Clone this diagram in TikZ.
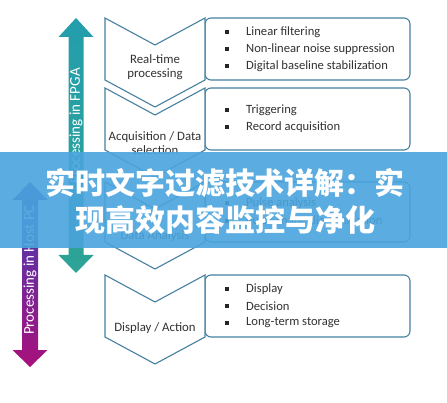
\documentclass[tikz,border=0pt]{standalone}
\usepackage{fontspec}
\setmainfont{Carlito}
\newfontfamily\cjk{Noto Sans CJK SC}
\definecolor{edge}{RGB}{70,128,160}
\definecolor{txt}{RGB}{50,50,50}
\definecolor{banner}{RGB}{74,164,221}
\begin{document}
\begin{tikzpicture}[x=1pt,y=-1pt,
  chev/.style={draw=edge,line width=1.1pt,fill=white,line join=miter},
  rbox/.style={draw=edge,line width=1.1pt,fill=white,rounded corners=6pt},
  ctext/.style={font=\fontsize{12.8}{14.5}\selectfont,text=txt,align=center},
  item/.style={font=\fontsize{12.6}{14}\selectfont,text=txt,anchor=west,inner sep=0pt},
  bul/.style={fill=black!85,minimum size=3.6pt,inner sep=0pt},
  arrtext/.style={font=\fontsize{15}{18}\selectfont,text=white,rotate=90},
  ttl/.style={font=\cjk\bfseries\fontsize{30}{36}\selectfont,text=white,inner sep=0pt}]
\useasboundingbox (0,0) rectangle (447,403);
\fill[white] (0,0) rectangle (447,403);
% teal double arrow
\shade[top color={rgb,255:red,36;green,158;blue,172},bottom color={rgb,255:red,46;green,163;blue,150}]
  (76,18) -- (93.5,37) -- (83.5,37) -- (83.5,255) -- (93.5,255) -- (76,273) -- (58.5,255) -- (68.5,255) -- (68.5,37) -- (58.5,37) -- cycle;
\node[arrtext] (fpga) at (76,126) {Processing in FPGA};
% purple double arrow
\shade[top color={rgb,255:red,60;green,66;blue,186},middle color={rgb,255:red,150;green,24;blue,128},bottom color={rgb,255:red,168;green,16;blue,122}]
  (30,182) -- (47.5,200) -- (38,200) -- (38,350) -- (47.5,350) -- (30,367) -- (12.5,350) -- (22,350) -- (22,200) -- (12.5,200) -- cycle;
\node[arrtext] (host) at (30,270) {Processing in Host PC};
% chevrons and boxes
\foreach \t/\b in {18/80,88/150,182/242,275/337}{
  \draw[rbox] (205,\t) rectangle (410,\b);
  \draw[chev] (105,\t) -- (155,\t+27) -- (205,\t) -- (205,\b) -- (155,\b+27) -- (105,\b) -- cycle;
}
\node[ctext] (c1) at (155,67) {Real-time\\processing};
\node[ctext] (c2) at (155,143) {Acquisition / Data\\selection};
\node[ctext] (c3) at (155,236) {Data Analysis};
\node[ctext] (c4) at (155,328) {Display / Action};
% items
\node[bul] (b11) at (227,32) {}; \node[item] (i11) at (246,32) {Linear filtering};
\node[bul] (b12) at (227,49) {}; \node[item] (i12) at (246,49) {Non-linear noise suppression};
\node[bul] (b13) at (227,66) {}; \node[item] (i13) at (246,66) {Digital baseline stabilization};
\node[bul] (b21) at (227,110) {}; \node[item] (i21) at (246,110) {Triggering};
\node[bul] (b22) at (227,127) {}; \node[item] (i22) at (246,127) {Record acquisition};
\node[bul] (b31) at (227,203) {}; \node[item] (i31) at (246,203) {Pulse analysis};
\node[bul] (b32) at (227,221) {}; \node[item] (i32) at (246,221) {Pulse shape discrimination};
\node[bul] (b41) at (227,289) {}; \node[item] (i41) at (246,289) {Display};
\node[bul] (b42) at (227,306) {}; \node[item] (i42) at (246,306) {Decision};
\node[bul] (b43) at (227,323) {}; \node[item] (i43) at (246,323) {Long-term storage};
% banner
\fill[banner,opacity=0.9] (0,152) rectangle (447,248);
\node[ttl] (t1) at (225,183) {实时文字过滤技术详解：实};
\node[ttl] (t2) at (225,220) {现高效内容监控与净化};
\end{tikzpicture}
\end{document}
